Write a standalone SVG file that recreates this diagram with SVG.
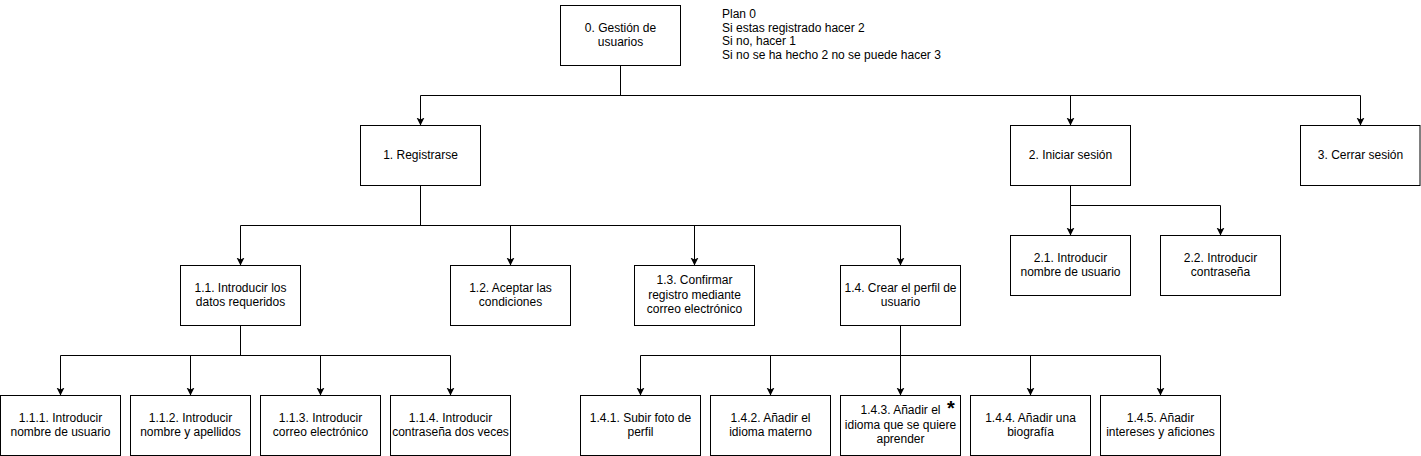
<svg xmlns="http://www.w3.org/2000/svg" width="1421" height="456" viewBox="0 0 1421 456">
<defs>
<marker id="arr" markerUnits="userSpaceOnUse" markerWidth="10" markerHeight="10" viewBox="0 0 10 10" refX="8" refY="4" orient="auto">
<path d="M0,0 L8,4 L0,8 L2,4 Z" fill="#000"/>
</marker>
</defs>
<style>
rect.n{fill:#fff;stroke:#000;stroke-width:1}
text{font-family:"Liberation Sans",Arial,Helvetica,sans-serif;font-size:12px;fill:#000}
text.c{text-anchor:middle}
.e{fill:none;stroke:#000;stroke-width:1;marker-end:url(#arr)}
.star{font-size:20px;font-weight:bold}
</style>
<rect x="0" y="0" width="1421" height="456" fill="#fff"/>
<g id="connectors">
<path class="e" d="M620.5,65.5 V95.5 H420.5 V125.5"/>
<path class="e" d="M620.5,65.5 V95.5 H1070.5 V125.5"/>
<path class="e" d="M620.5,65.5 V95.5 H1360.5 V125.5"/>
<path class="e" d="M420.5,185.5 V225.5 H240.5 V265.5"/>
<path class="e" d="M420.5,185.5 V225.5 H510.5 V265.5"/>
<path class="e" d="M420.5,185.5 V225.5 H694.5 V265.5"/>
<path class="e" d="M420.5,185.5 V225.5 H900.5 V265.5"/>
<path class="e" d="M1070.5,185.5 V205.5 V235.5"/>
<path class="e" d="M1070.5,185.5 V205.5 H1220.5 V235.5"/>
<path class="e" d="M240.5,325.5 V355.5 H60.5 V395.5"/>
<path class="e" d="M240.5,325.5 V355.5 H190.5 V395.5"/>
<path class="e" d="M240.5,325.5 V355.5 H320.5 V395.5"/>
<path class="e" d="M240.5,325.5 V355.5 H450.5 V395.5"/>
<path class="e" d="M900.5,325.5 V355.5 H640.5 V395.5"/>
<path class="e" d="M900.5,325.5 V355.5 H770.5 V395.5"/>
<path class="e" d="M900.5,325.5 V355.5 V395.5"/>
<path class="e" d="M900.5,325.5 V355.5 H1030.5 V395.5"/>
<path class="e" d="M900.5,325.5 V355.5 H1160.5 V395.5"/>
</g>
<g id="n0"><rect class="n" x="560.5" y="5.5" width="120" height="60"/><text class="c" x="620.5" y="31.6">0. Gestión de</text><text class="c" x="620.5" y="46">usuarios</text></g>
<g id="plan"><text x="722" y="17.8">Plan 0</text><text x="722" y="31.6">Si estas registrado hacer 2</text><text x="722" y="45.4">Si no, hacer 1</text><text x="722" y="59.2">Si no se ha hecho 2 no se puede hacer 3</text></g>
<g id="n1"><rect class="n" x="360.5" y="125.5" width="120" height="60"/><text class="c" x="420.5" y="158.8">1. Registrarse</text></g>
<g id="n2"><rect class="n" x="1010.5" y="125.5" width="120" height="60"/><text class="c" x="1070.5" y="158.8">2. Iniciar sesión</text></g>
<g id="n3"><rect class="n" x="1300.5" y="125.5" width="119.5" height="60"/><text class="c" x="1360.5" y="158.8">3. Cerrar sesión</text></g>
<g id="n2_1"><rect class="n" x="1010.5" y="235.5" width="120" height="60"/><text class="c" x="1070.5" y="261.6">2.1. Introducir</text><text class="c" x="1070.5" y="276">nombre de usuario</text></g>
<g id="n2_2"><rect class="n" x="1160.5" y="235.5" width="120" height="60"/><text class="c" x="1220.5" y="261.6">2.2. Introducir</text><text class="c" x="1220.5" y="276">contraseña</text></g>
<g id="n1_1"><rect class="n" x="180.5" y="265.5" width="120" height="60"/><text class="c" x="240.5" y="291.6">1.1. Introducir los</text><text class="c" x="240.5" y="306">datos requeridos</text></g>
<g id="n1_2"><rect class="n" x="450.5" y="265.5" width="120" height="60"/><text class="c" x="510.5" y="291.6">1.2. Aceptar las</text><text class="c" x="510.5" y="306">condiciones</text></g>
<g id="n1_3"><rect class="n" x="634.5" y="265.5" width="120" height="60"/><text class="c" x="694.5" y="284.4">1.3. Confirmar</text><text class="c" x="694.5" y="298.8">registro mediante</text><text class="c" x="694.5" y="313.2">correo electrónico</text></g>
<g id="n1_4"><rect class="n" x="840.5" y="265.5" width="120" height="60"/><text class="c" x="900.5" y="291.6">1.4. Crear el perfil de</text><text class="c" x="900.5" y="306">usuario</text></g>
<g id="n1_1_1"><rect class="n" x="0.5" y="395.5" width="120" height="60"/><text class="c" x="60.5" y="421.6">1.1.1. Introducir</text><text class="c" x="60.5" y="436">nombre de usuario</text></g>
<g id="n1_1_2"><rect class="n" x="130.5" y="395.5" width="120" height="60"/><text class="c" x="190.5" y="421.6">1.1.2. Introducir</text><text class="c" x="190.5" y="436">nombre y apellidos</text></g>
<g id="n1_1_3"><rect class="n" x="260.5" y="395.5" width="120" height="60"/><text class="c" x="320.5" y="421.6">1.1.3. Introducir</text><text class="c" x="320.5" y="436">correo electrónico</text></g>
<g id="n1_1_4"><rect class="n" x="390.5" y="395.5" width="120" height="60"/><text class="c" x="450.5" y="421.6">1.1.4. Introducir</text><text class="c" x="450.5" y="436">contraseña dos veces</text></g>
<g id="n1_4_1"><rect class="n" x="580.5" y="395.5" width="120" height="60"/><text class="c" x="640.5" y="421.6">1.4.1. Subir foto de</text><text class="c" x="640.5" y="436">perfil</text></g>
<g id="n1_4_2"><rect class="n" x="710.5" y="395.5" width="120" height="60"/><text class="c" x="770.5" y="421.6">1.4.2. Añadir el</text><text class="c" x="770.5" y="436">idioma materno</text></g>
<g id="n1_4_3"><rect class="n" x="840.5" y="395.5" width="120" height="60"/><text class="c" x="900.5" y="414.4">1.4.3. Añadir el</text><text class="c" x="900.5" y="428.8">idioma que se quiere</text><text class="c" x="900.5" y="443.2">aprender</text><text class="c star" x="951" y="415">*</text></g>
<g id="n1_4_4"><rect class="n" x="970.5" y="395.5" width="120" height="60"/><text class="c" x="1030.5" y="421.6">1.4.4. Añadir una</text><text class="c" x="1030.5" y="436">biografía</text></g>
<g id="n1_4_5"><rect class="n" x="1100.5" y="395.5" width="120" height="60"/><text class="c" x="1160.5" y="421.6">1.4.5. Añadir</text><text class="c" x="1160.5" y="436">intereses y aficiones</text></g>
</svg>
